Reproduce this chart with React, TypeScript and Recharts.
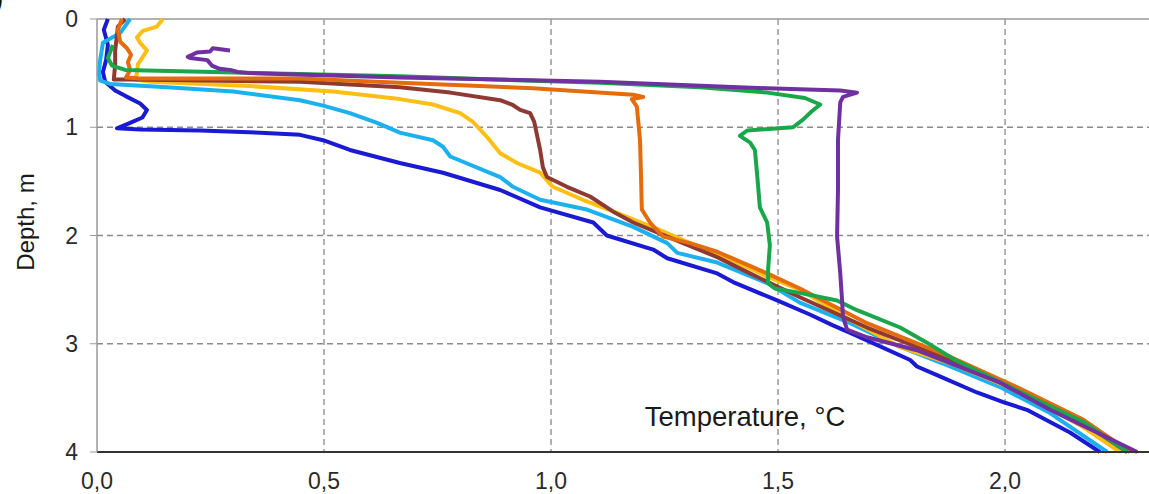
import React from "react";
import {
  LineChart, Line, XAxis, YAxis, CartesianGrid, ReferenceLine,
} from "recharts";

// Temperature profiles, [temperature °C, depth m], listed from the surface down
const PROFILE_BLUE: [number, number][] = [
  [0.024, 0], [0.015, 0.1], [0.024, 0.24], [0.02, 0.38], [0.013, 0.49], [0.018, 0.58],
  [0.04, 0.66], [0.062, 0.71], [0.095, 0.78], [0.11, 0.84], [0.1, 0.91], [0.073, 0.96],
  [0.044, 1.01], [0.095, 1.02], [0.227, 1.03], [0.36, 1.05], [0.447, 1.07], [0.498, 1.12],
  [0.557, 1.21], [0.667, 1.33], [0.762, 1.42], [0.888, 1.58], [0.976, 1.74], [1.093, 1.88],
  [1.123, 2.0], [1.225, 2.13], [1.256, 2.21], [1.366, 2.35], [1.401, 2.43], [1.498, 2.6],
  [1.57, 2.73], [1.621, 2.83], [1.659, 2.9], [1.791, 3.15], [1.806, 3.21], [1.85, 3.29],
  [1.938, 3.45], [1.996, 3.54], [2.048, 3.61], [2.143, 3.82], [2.209, 4.0],
];

const PROFILE_SKY: [number, number][] = [
  [0.073, 0], [0.051, 0.13], [0.013, 0.22], [0.007, 0.38], [0.004, 0.5], [0.007, 0.57],
  [0.029, 0.6], [0.154, 0.63], [0.3, 0.67], [0.447, 0.75], [0.498, 0.8], [0.557, 0.87],
  [0.617, 0.96], [0.667, 1.05], [0.74, 1.12], [0.762, 1.18], [0.778, 1.27], [0.888, 1.46],
  [0.916, 1.55], [0.976, 1.67], [1.079, 1.76], [1.181, 1.92], [1.256, 2.07], [1.278, 2.16],
  [1.366, 2.25], [1.476, 2.44], [1.548, 2.62], [1.659, 2.81], [1.769, 3.03], [1.879, 3.21],
  [1.989, 3.4], [2.099, 3.64], [2.225, 4.0],
];

const PROFILE_GOLD: [number, number][] = [
  [0.145, 0], [0.132, 0.07], [0.101, 0.11], [0.088, 0.17], [0.095, 0.22], [0.11, 0.29],
  [0.101, 0.35], [0.09, 0.42], [0.088, 0.5], [0.084, 0.56], [0.117, 0.58], [0.337, 0.62],
  [0.52, 0.67], [0.667, 0.74], [0.74, 0.79], [0.8, 0.87], [0.828, 0.95], [0.859, 1.09],
  [0.888, 1.24], [0.925, 1.33], [0.976, 1.42], [1.004, 1.55], [1.07, 1.67], [1.145, 1.79],
  [1.24, 1.95], [1.328, 2.11], [1.4, 2.23], [1.476, 2.38], [1.548, 2.5], [1.659, 2.78],
  [1.769, 3.03], [1.879, 3.18], [2.026, 3.43], [2.172, 3.77], [2.253, 4.0],
];

const PROFILE_BROWN: [number, number][] = [
  [0.062, 0], [0.046, 0.07], [0.044, 0.15], [0.04, 0.29], [0.04, 0.42], [0.037, 0.56],
  [0.073, 0.56], [0.447, 0.58], [0.667, 0.63], [0.778, 0.68], [0.888, 0.75], [0.914, 0.79],
  [0.932, 0.84], [0.954, 0.87], [0.963, 0.95], [0.969, 1.07], [0.976, 1.21], [0.982, 1.37],
  [0.991, 1.46], [1.035, 1.55], [1.086, 1.64], [1.137, 1.78], [1.181, 1.88], [1.256, 2.01],
  [1.366, 2.2], [1.438, 2.35], [1.548, 2.57], [1.696, 2.85], [1.879, 3.15], [2.026, 3.43],
  [2.172, 3.73], [2.269, 4.0],
];

const PROFILE_ORANGE: [number, number][] = [
  [0.055, 0], [0.046, 0.1], [0.051, 0.21], [0.066, 0.27], [0.075, 0.33], [0.068, 0.4],
  [0.073, 0.47], [0.064, 0.54], [0.095, 0.55], [0.447, 0.55], [0.667, 0.59], [0.96, 0.64],
  [1.181, 0.7], [1.203, 0.72], [1.178, 0.74], [1.189, 0.81], [1.196, 1.12], [1.198, 1.42],
  [1.2, 1.76], [1.218, 1.88], [1.247, 2.01], [1.306, 2.07], [1.366, 2.15], [1.476, 2.35],
  [1.548, 2.49], [1.696, 2.81], [1.879, 3.12], [2.026, 3.4], [2.172, 3.7], [2.275, 4.0],
];

const PROFILE_GREEN: [number, number][] = [
  [0.035, 0.24], [0.024, 0.36], [0.033, 0.43], [0.062, 0.47], [0.256, 0.49], [0.667, 0.53],
  [1.108, 0.59], [1.328, 0.63], [1.476, 0.68], [1.559, 0.73], [1.593, 0.79], [1.575, 0.85],
  [1.555, 0.93], [1.533, 1.0], [1.432, 1.03], [1.416, 1.08], [1.438, 1.14], [1.449, 1.21],
  [1.454, 1.44], [1.46, 1.74], [1.476, 1.88], [1.482, 2.09], [1.478, 2.32], [1.478, 2.44],
  [1.493, 2.49], [1.548, 2.53], [1.63, 2.6], [1.674, 2.69], [1.769, 2.85], [1.828, 2.99],
  [1.89, 3.15], [2.026, 3.43], [2.172, 3.72], [2.269, 4.0],
];

const PROFILE_PURPLE: [number, number][] = [
  [0.293, 0.29], [0.255, 0.27], [0.249, 0.3], [0.22, 0.31], [0.2, 0.35], [0.205, 0.36],
  [0.243, 0.38], [0.253, 0.43], [0.27, 0.46], [0.293, 0.47], [0.31, 0.49], [0.337, 0.5],
  [0.667, 0.54], [1.108, 0.58], [1.476, 0.64], [1.637, 0.66], [1.674, 0.68], [1.643, 0.72],
  [1.637, 0.77], [1.632, 1.12], [1.632, 1.58], [1.63, 2.01], [1.637, 2.35], [1.641, 2.6],
  [1.643, 2.75], [1.652, 2.87], [1.696, 2.94], [1.806, 3.06], [1.879, 3.18], [1.989, 3.36],
  [2.099, 3.61], [2.291, 4.0],
];

const TEMP_TICKS = [0, 0.5, 1, 1.5, 2];
const DEPTH_TICKS = [0, 1, 2, 3, 4];

const SERIES = [
  { name: "blue", color: "#1a1ad2", points: PROFILE_BLUE },
  { name: "sky", color: "#1cb0ee", points: PROFILE_SKY },
  { name: "gold", color: "#fcbf12", points: PROFILE_GOLD },
  { name: "brown", color: "#8e3a32", points: PROFILE_BROWN },
  { name: "orange", color: "#e46c0c", points: PROFILE_ORANGE },
  { name: "green", color: "#1aa64a", points: PROFILE_GREEN },
  { name: "purple", color: "#7030a0", points: PROFILE_PURPLE },
];

const W = 1149;
const H = 494;
const FONT = "'Liberation Sans', Arial, sans-serif";

const fmtTemp = (v: number) => v.toFixed(1).replace(".", ",");

export default function App() {
  return (
    <div style={{ position: "absolute", left: 0, top: 0, width: W, height: H, fontFamily: FONT }}>
      <LineChart width={W} height={H} margin={{ top: 19, right: 0, left: 0, bottom: 0 }}>
        <CartesianGrid
          stroke="#8a8a8a"
          strokeWidth={1.3}
          strokeDasharray="6 4"
          verticalValues={[0.5, 1, 1.5, 2]}
          horizontalValues={[1, 2, 3]}
        />
        <XAxis
          type="number"
          dataKey="t"
          domain={[0, 2.317]}
          allowDataOverflow
          ticks={TEMP_TICKS}
          tickFormatter={fmtTemp}
          height={42}
          tickLine={false}
          tickSize={0}
          tickMargin={21}
          axisLine={{ stroke: "#333", strokeWidth: 2 }}
          tick={{ fill: "#2a2a2a", fontSize: 23, fontFamily: FONT }}
        />
        <YAxis
          type="number"
          dataKey="d"
          domain={[0, 4]}
          reversed
          ticks={DEPTH_TICKS}
          width={97}
          tickSize={7}
          tickMargin={12}
          tickLine={{ stroke: "#999" }}
          axisLine={{ stroke: "#999", strokeWidth: 1.5 }}
          tick={{ fill: "#2a2a2a", fontSize: 23, fontFamily: FONT }}
        />
        <ReferenceLine y={0} stroke="#999" strokeWidth={1.5} />
        {SERIES.map((s) => (
          <Line
            key={s.name}
            data={s.points.map(([t, d]) => ({ t, d }))}
            dataKey="d"
            type="linear"
            stroke={s.color}
            strokeWidth={4}
            strokeLinejoin="round"
            dot={false}
            activeDot={false}
            isAnimationActive={false}
          />
        ))}
      </LineChart>
      <svg
        width={W}
        height={H}
        style={{ position: "absolute", left: 0, top: 0, pointerEvents: "none" }}
      >
        <text x={-7} y={8} fontSize={32} fontFamily={FONT} fill="#111">)</text>
        <text
          x={745}
          y={426}
          textAnchor="middle"
          fontSize={27.5}
          fontFamily={FONT}
          fill="#1a1a1a"
        >
          Temperature, °C
        </text>
        <text
          x={0}
          y={0}
          transform="translate(34 222) rotate(-90)"
          textAnchor="middle"
          fontSize={24}
          fontFamily={FONT}
          fill="#1a1a1a"
        >
          Depth, m
        </text>
      </svg>
    </div>
  );
}
